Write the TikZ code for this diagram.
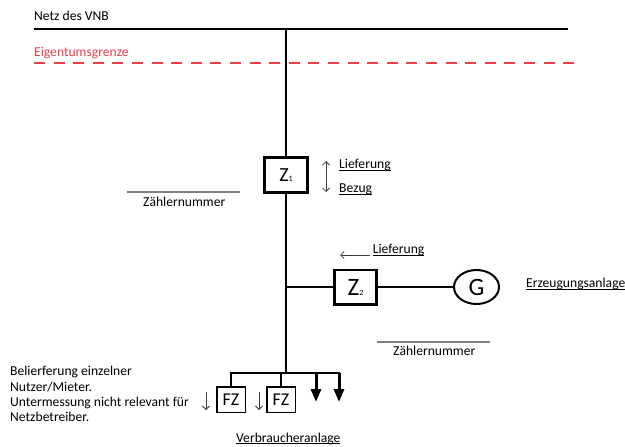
\documentclass[tikz,border=0pt]{standalone}
\usepackage{fontspec}
\setmainfont{Carlito}
\usepackage{xcolor}
\usepackage{tikz}
\usetikzlibrary{positioning}
\usetikzlibrary{arrows.meta}
\usetikzlibrary{shapes.geometric}

\definecolor{grenzrot}{RGB}{238,62,72}
\definecolor{strichgrau}{RGB}{128,128,128}
\definecolor{pfeilgrau}{RGB}{60,60,60}

\newcommand{\unterstrich}[1]{{\setbox0\hbox{#1}\rlap{\rule[-2.2pt]{\wd0}{0.8pt}}\box0}}
\newcommand{\zsub}[2]{{\fontsize{#2}{#2}\selectfont #1}}

\tikzset{
  leitung/.style={black, line width=2.4pt},
  zaehler/.style={draw, black, line width=2.6pt, inner sep=0pt},
  unterzaehler/.style={draw, black, line width=1.5pt, inner sep=0pt,
    minimum width=28.5pt, minimum height=25.5pt, font=\fontsize{18}{18}\selectfont},
  beschriftung/.style={font=\fontsize{13.6}{15.3}\selectfont, inner sep=0pt, anchor=base west},
  nummernstrich/.style={strichgrau, line width=1.3pt},
  pfeil/.style={pfeilgrau, line width=0.8pt},
  lastpfeil/.style={black, line width=3pt, -{Triangle[width=10pt,length=13pt]}}
}

\begin{document}
\begin{tikzpicture}[x=1pt, y=-1pt, >={Straight Barb[length=3.5pt,width=7pt]}]

\useasboundingbox (0,0) rectangle (625,447);

% netz und grenze
{
\coordinate (netzL) at (34,29);
\coordinate (netzR) at (568,29);
\coordinate (netzmitte) at (286,29);
\draw[leitung] (netzL) -- (netzR);

\node[beschriftung] (netz) at (34,20.7) {Netz des VNB};

\coordinate (grenzeL) at (34,63);
\coordinate (grenzeR) at (582,63);
\draw[grenzrot, line width=1.2pt, dash pattern=on 11pt off 8.6pt] (grenzeL) -- (grenzeR);

\node[beschriftung, text=grenzrot] (grenze) at (34,56.7) {Eigentumsgrenze};
}

% zaehler
{
\node[zaehler, minimum width=43.4pt, minimum height=35.4pt] (z1) at (286,175)
{\fontsize{20}{20}\selectfont Z\zsub{1}{8}};

\node[zaehler, minimum width=42.4pt, minimum height=34.4pt] (z2) at (355.5,287)
{\fontsize{25}{25}\selectfont Z\zsub{2}{8}};

\node[ellipse, draw, black, line width=2pt, inner sep=0pt,
  minimum width=45pt, minimum height=34pt] (gen) at (476.5,287)
{\fontsize{25}{25}\selectfont G};
}

% leitungen
{
\coordinate (abzweig) at (286,287);
\coordinate (busmitte) at (286,373);
\coordinate (busR) at (339,373);

\draw[leitung] (netzmitte) -- (z1.north);
\draw[leitung] (z1.south) -- (busmitte);
\draw[leitung] (abzweig) -- (z2.west);
\draw[black, line width=2pt] (z2.east) -- (gen.west);
}

% verbraucher
{
\node[unterzaehler] (fz1) at (231,399.5) {FZ};
\node[unterzaehler] (fz2) at (281,399.5) {FZ};

\draw[leitung, line cap=rect] (fz1.north) |- (busR);
\draw[leitung] (fz2.north) -- (fz2.north |- busR);

\coordinate (last1o) at (316,373);
\coordinate (last1u) at (316,402);
\coordinate (last2o) at (339,373);
\coordinate (last2u) at (339,402);
\draw[lastpfeil] (last1o) -- (last1u);
\draw[lastpfeil] (last2o) -- (last2u);

\coordinate (fz1pfeilo) at (206,392);
\coordinate (fz1pfeilu) at (206,410);
\coordinate (fz2pfeilo) at (259,392);
\coordinate (fz2pfeilu) at (259,410);
\draw[pfeil, ->] (fz1pfeilo) -- (fz1pfeilu);
\draw[pfeil, ->] (fz2pfeilo) -- (fz2pfeilu);
}

% pfeile
{
\coordinate (richtungo) at (326,161);
\coordinate (richtungu) at (326,192);
\draw[pfeil, <->] (richtungo) -- (richtungu);

\coordinate (einspeisungR) at (370,255);
\coordinate (einspeisungL) at (340,255);
\draw[pfeil, ->] (einspeisungR) -- (einspeisungL);
}

% zaehlernummern
{
\coordinate (nummer1L) at (127,192);
\coordinate (nummer1R) at (240,192);
\draw[nummernstrich] (nummer1L) -- (nummer1R);
\node[beschriftung] (nummer1) at (143,206) {Zählernummer};

\coordinate (nummer2L) at (377,342);
\coordinate (nummer2R) at (490,342);
\draw[nummernstrich] (nummer2L) -- (nummer2R);
\node[beschriftung] (nummer2) at (393,355) {Zählernummer};
}

% nodes
{
\node[beschriftung] (lieferung1) at (339,168.3) {\unterstrich{Lieferung}};
\node[beschriftung] (bezug) at (339,192.3) {\unterstrich{Bezug}};
\node[beschriftung] (lieferung2) at (372.7,253.3) {\unterstrich{Lieferung}};
\node[beschriftung] (erzeugung) at (526,287.3) {\unterstrich{Erzeugungsanlage}};
\node[beschriftung] (verbraucher) at (236,442) {\unterstrich{Verbraucheranlage}};

% base = letzte zeile
\node[beschriftung, align=left] (mieter) at (10,421.6)
{Belierferung einzelner\\ Nutzer/Mieter.\\ Untermessung nicht relevant für\\ Netzbetreiber.};
}

\end{tikzpicture}
\end{document}
